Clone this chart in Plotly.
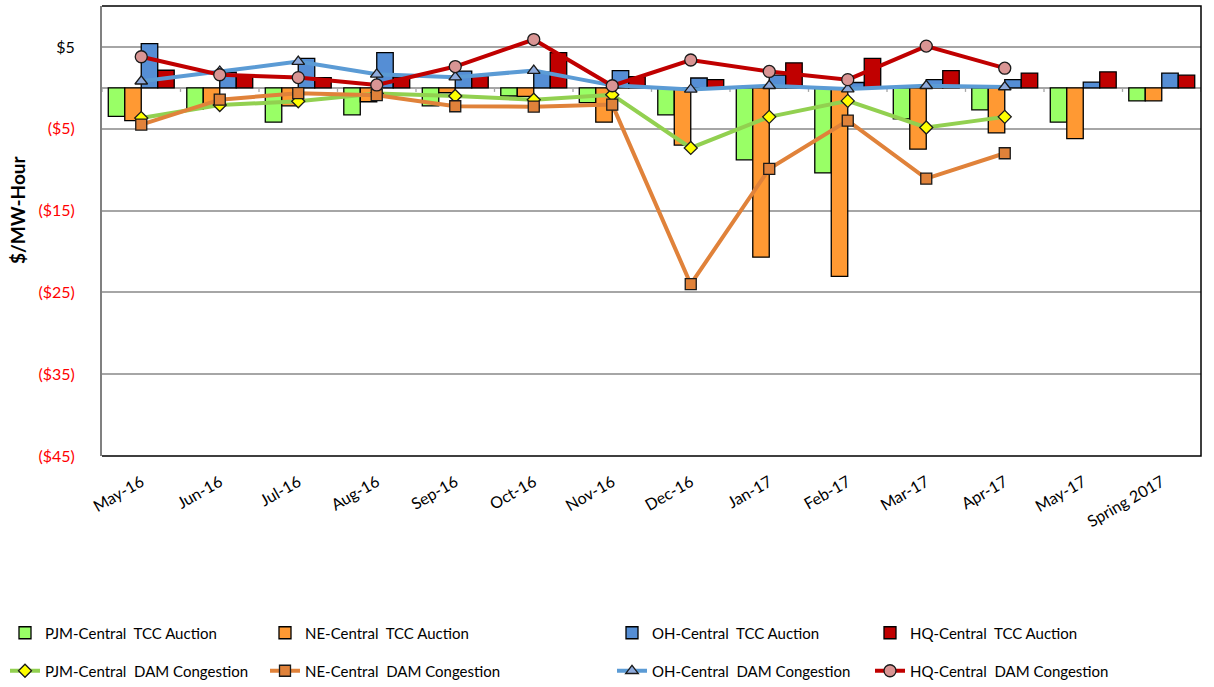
import plotly.graph_objects as go

# Monthly congestion values ($/MW-Hour)
categories = ["May-16", "Jun-16", "Jul-16", "Aug-16", "Sep-16", "Oct-16", "Nov-16",
              "Dec-16", "Jan-17", "Feb-17", "Mar-17", "Apr-17", "May-17", "Spring 2017"]

pjm_tcc = [-3.5, -2.6, -4.2, -3.3, -2.2, -1.0, -1.8, -3.3, -8.8, -10.4, -3.8, -2.7, -4.2, -1.6]
ne_tcc = [-4.0, -2.2, -2.2, -1.7, -0.6, -1.05, -4.2, -7.0, -20.7, -23.05, -7.5, -5.5, -6.2, -1.6]
oh_tcc = [5.4, 1.9, 3.6, 4.3, 2.05, 1.9, 2.1, 1.2, 1.55, 0.65, 1.0, 1.0, 0.7, 1.8]
hq_tcc = [2.15, 1.45, 1.25, 1.3, 1.45, 4.3, 1.35, 1.0, 3.05, 3.6, 2.1, 1.8, 1.95, 1.55]

dam_months = categories[:12]
pjm_dam = [-3.7, -2.1, -1.65, -0.7, -1.0, -1.45, -0.85, -7.35, -3.55, -1.6, -4.85, -3.55]
ne_dam = [-4.5, -1.45, -0.65, -0.9, -2.25, -2.3, -2.05, -24.0, -9.9, -4.0, -11.1, -8.0]
oh_dam = [0.8, 2.0, 3.2, 1.65, 1.3, 2.1, 0.3, -0.2, 0.25, -0.15, 0.25, 0.1]
hq_dam = [3.8, 1.6, 1.25, 0.35, 2.6, 5.9, 0.25, 3.4, 2.0, 1.0, 5.1, 2.4]

y_ticks = [5, -5, -15, -25, -35, -45]
y_tick_text = ["$5", "<span style='color:#ff0000'>($5)</span>",
               "<span style='color:#ff0000'>($15)</span>",
               "<span style='color:#ff0000'>($25)</span>",
               "<span style='color:#ff0000'>($35)</span>",
               "<span style='color:#ff0000'>($45)</span>"]

FONT = "Lato, 'Open Sans', sans-serif"
W, H = 1214, 687
SP = "\u00a0 "  # wide gap between hub name and series type

fig = go.Figure()

# legend slots: left px of each column, centre px of each row
col_x = [5, 265, 612, 870]
row_y = [633, 671]

bar_specs = [
    (f"PJM-Central{SP}TCC Auction", pjm_tcc, "#99ff66"),
    (f"NE-Central{SP}TCC Auction", ne_tcc, "#ff9933"),
    (f"OH-Central{SP}TCC Auction", oh_tcc, "#558ed5"),
    (f"HQ-Central{SP}TCC Auction", hq_tcc, "#c00000"),
]
line_specs = [
    (f"PJM-Central{SP}DAM Congestion", pjm_dam, "#92d050", "diamond", "#ffff00", 10),
    (f"NE-Central{SP}DAM Congestion", ne_dam, "#e0823a", "square", "#e0823a", 11),
    (f"OH-Central{SP}DAM Congestion", oh_dam, "#5b9bd5", "triangle-up", "#8eaadb", 11),
    (f"HQ-Central{SP}DAM Congestion", hq_dam, "#c00000", "circle", "#d99594", 12),
]

legends = {}
n = 1
for k, (name, vals, color) in enumerate(bar_specs):
    lid = "legend" if n == 1 else f"legend{n}"
    legends[lid] = (col_x[k], row_y[0])
    fig.add_trace(go.Bar(
        x=categories, y=vals, name=name, legend=lid,
        marker=dict(color=color, line=dict(color="#000000", width=1.3)),
    ))
    n += 1

for k, (name, vals, color, sym, mcolor, size) in enumerate(line_specs):
    lid = f"legend{n}"
    legends[lid] = (col_x[k], row_y[1])
    fig.add_trace(go.Scatter(
        x=dam_months, y=vals, name=name, legend=lid, mode="lines+markers",
        line=dict(color=color, width=4),
        marker=dict(symbol=sym, size=size, color=mcolor,
                    line=dict(color="#1a1a1a", width=1.3)),
    ))
    n += 1

# small tick marks on the zero line between categories
shapes = []
for i in range(len(categories) + 1):
    shapes.append(dict(type="line", xref="x", yref="y", x0=i - 0.5, x1=i - 0.5,
                       y0=0, y1=-0.5, line=dict(color="#a6a6a6", width=1.3),
                       layer="below"))
# plot-area frame (top, right, bottom)
shapes.append(dict(type="path", xref="paper", yref="paper",
                   path="M 0 1 L 1 1 L 1 0 L 0 0",
                   line=dict(color="#000000", width=1.5)))

layout_legends = {}
for lid, (px, py) in legends.items():
    layout_legends[lid] = dict(
        orientation="h", xref="container", yref="container",
        x=px / W, y=1 - py / H, xanchor="left", yanchor="middle",
        font=dict(size=15, family=FONT), bgcolor="rgba(0,0,0,0)",
        borderwidth=0,
    )

fig.update_layout(
    width=W, height=H,
    margin=dict(l=102, r=13, t=6, b=231, autoexpand=False),
    paper_bgcolor="white", plot_bgcolor="white",
    font=dict(family=FONT, size=15, color="#000000"),
    barmode="group", bargap=0.16, bargroupgap=0,
    shapes=shapes,
    xaxis=dict(
        type="category", categoryorder="array", categoryarray=categories,
        range=[-0.5, len(categories) - 0.5], automargin=False,
        tickangle=-30, tickfont=dict(size=16), showgrid=False,
        ticks="", showline=False, zeroline=False, ticklabelstandoff=13,
    ),
    yaxis=dict(
        range=[-45, 10], tickvals=y_ticks, ticktext=y_tick_text, automargin=False,
        tickfont=dict(size=16), showgrid=True, gridcolor="#a6a6a6", gridwidth=1.5,
        zeroline=True, zerolinecolor="#a6a6a6", zerolinewidth=1.5,
        showline=True, linecolor="#808080", linewidth=2, ticks="",
        ticklabelstandoff=22,
    ),
    annotations=[dict(
        text="<b>$/MW-Hour</b>", textangle=-90, xref="paper", yref="paper",
        x=(17 - 102) / 1099, y=(456 - 210) / 450, showarrow=False,
        font=dict(size=19, family=FONT), xanchor="center", yanchor="middle",
    )],
    showlegend=True,
    **layout_legends,
)

fig.write_html("out.html")
